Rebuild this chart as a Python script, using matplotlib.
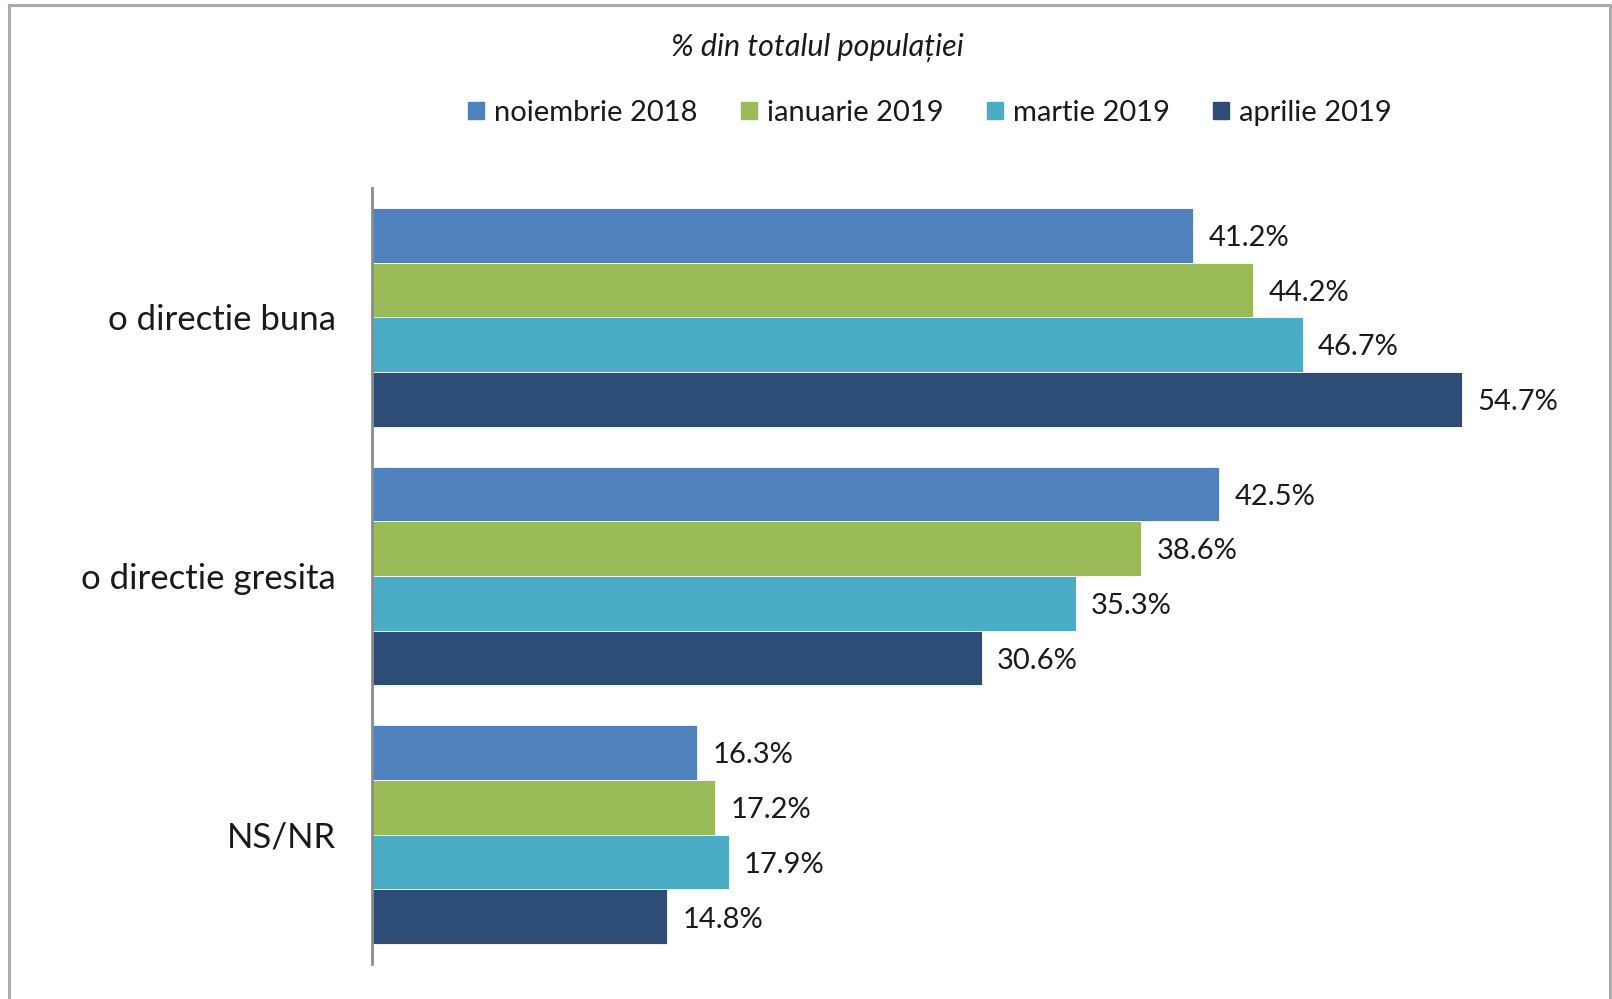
import numpy as np
import matplotlib.pyplot as plt
from matplotlib.patches import Rectangle
from matplotlib.lines import Line2D

plt.rcParams['font.family'] = ['Lato', 'DejaVu Sans']

# data
categories = ['o directie buna', 'o directie gresita', 'NS/NR']
series = ['noiembrie 2018', 'ianuarie 2019', 'martie 2019', 'aprilie 2019']
values = [
    [41.2, 42.5, 16.3],
    [44.2, 38.6, 17.2],
    [46.7, 35.3, 17.9],
    [54.7, 30.6, 14.8],
]
colors = ['#4F81BD', '#9BBB59', '#4BACC6', '#2C4D75']

W, H = 1612, 999
fig = plt.figure(figsize=(W / 100, H / 100), dpi=100)

# outer frame (no bottom edge, like the cropped screenshot)
frame_col = '#ABABAB'
fig.add_artist(Line2D([9 / W, 9 / W], [0, 1 - 5 / H], color=frame_col, lw=2.2,
                      transform=fig.transFigure))
fig.add_artist(Line2D([9 / W, 1610 / W], [1 - 5 / H, 1 - 5 / H], color=frame_col, lw=2.2,
                      transform=fig.transFigure))
fig.add_artist(Line2D([1610 / W, 1610 / W], [0, 1 - 5 / H], color=frame_col, lw=2.2,
                      transform=fig.transFigure))

ax = fig.add_axes([372 / W, 35 / H, 1196 / W, 776 / H])

n = len(series)
bar_h = 0.846 / n
y = np.arange(len(categories))
for i in range(n):
    offs = y - 0.423 + bar_h * (i + 0.5)
    ax.barh(offs, values[i], height=bar_h, color=colors[i], edgecolor='white', linewidth=0.6,
            label=series[i])
    for yy, v in zip(offs, values[i]):
        ax.annotate(f'{v:.1f}%', (v, yy), xytext=(11, -2), textcoords='offset points',
                    va='center', ha='left', fontsize=21, color='#1a1a1a')

ax.set_xlim(0, 60)
ax.set_ylim(len(categories) - 0.5, -0.5)
ax.set_yticks(y)
ax.set_yticklabels(categories, fontsize=25, color='#1a1a1a')
ax.tick_params(axis='y', length=0, pad=26)
ax.set_xticks([])
for s in ['top', 'right', 'bottom']:
    ax.spines[s].set_visible(False)
ax.spines['left'].set_color('#8C8C8C')
ax.spines['left'].set_linewidth(2)

fig.text(817 / W, 1 - 48 / H, '% din totalul populației', ha='center', va='center',
         fontsize=22, style='italic', color='#1a1a1a')

handles = [Rectangle((0, 0), 1, 1, color=c) for c in colors]
fig.legend(handles, series, loc='center', bbox_to_anchor=(930 / W, 1 - 113 / H), ncol=4,
           frameon=False, fontsize=21, handlelength=0.55, handleheight=0.55,
           handletextpad=0.35, columnspacing=1.48, labelcolor='#1a1a1a')

fig.savefig('out.png', dpi=100, facecolor='white')
